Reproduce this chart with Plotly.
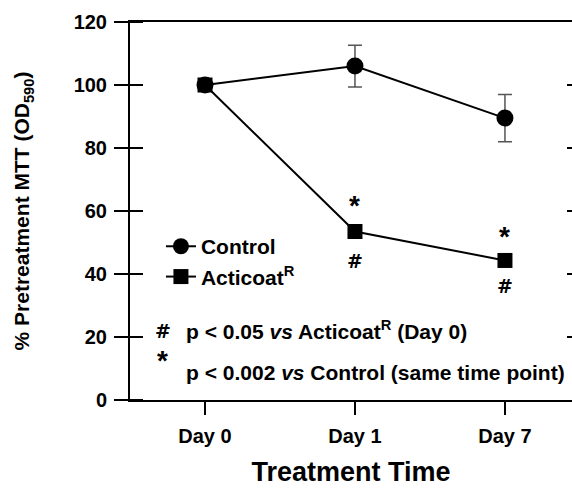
import plotly.graph_objects as go

days = ["Day 0", "Day 1", "Day 7"]
control = [100, 106, 89.5]
control_err = [0, 6.6, 7.5]
acticoat = [100, 53.5, 44.3]
y_ticks = [0, 20, 40, 60, 80, 100, 120]

FONT = "Liberation Sans, Arial, sans-serif"
HASH_FONT = "DejaVu Sans, Liberation Sans, sans-serif"
PLOT_W = 442  # plot area width in px (572 - 130)

fig = go.Figure()
fig.add_trace(go.Scatter(
    x=days, y=control, name="Control", mode="lines+markers",
    line=dict(color="black", width=2),
    marker=dict(symbol="circle", size=17, color="black"),
    error_y=dict(type="data", array=control_err, color="#555", thickness=1.5, width=7),
))
fig.add_trace(go.Scatter(
    x=days, y=acticoat, name="Acticoat<sup>R</sup>", mode="lines+markers",
    line=dict(color="black", width=2),
    marker=dict(symbol="square", size=15, color="black"),
))

# inward half of the crossing y ticks, and right-side stub ticks
for v in y_ticks:
    fig.add_shape(type="line", xref="paper", yref="y", x0=0, x1=13 / PLOT_W, y0=v, y1=v,
                  line=dict(color="black", width=2))
for v in y_ticks[1:-1]:
    fig.add_shape(type="line", xref="paper", yref="y", x0=1 - 5 / PLOT_W, x1=1, y0=v, y1=v,
                  line=dict(color="black", width=2))

# significance markers
for i in [1, 2]:
    fig.add_annotation(x=days[i], y=acticoat[i], text="*", showarrow=False,
                       font=dict(size=28, family=FONT, color="black", weight="bold"),
                       yshift=26 if i == 1 else 24)
    fig.add_annotation(x=days[i], y=acticoat[i], text="#", showarrow=False,
                       font=dict(size=19, family=HASH_FONT, color="black", weight="bold"),
                       yshift=-30 if i == 1 else -26)

fig.add_annotation(xref="paper", yref="paper", x=0.0747, y=0.182, xanchor="center", yanchor="middle",
                   text="#", showarrow=False,
                   font=dict(size=19, family=HASH_FONT, color="black", weight="bold"))
fig.add_annotation(xref="paper", yref="paper", x=0.122, y=0.186, xanchor="left", yanchor="middle",
                   text="p < 0.05 <i>vs</i> Acticoat<sup>R</sup> (Day 0)", showarrow=False,
                   font=dict(size=21, family=FONT, color="black", weight="bold"))
fig.add_annotation(xref="paper", yref="paper", x=0.0724, y=0.104, xanchor="center", yanchor="middle",
                   text="*", showarrow=False,
                   font=dict(size=28, family=FONT, color="black", weight="bold"))
fig.add_annotation(xref="paper", yref="paper", x=0.122, y=0.074, xanchor="left", yanchor="middle",
                   text="p < 0.002 <i>vs</i> Control (same time point)", showarrow=False,
                   font=dict(size=21, family=FONT, color="black", weight="bold"))

fig.update_layout(
    width=572, height=489,
    margin=dict(l=130, r=0, t=22, b=89),
    paper_bgcolor="white", plot_bgcolor="white",
    font=dict(family=FONT, size=20, color="black", weight="bold"),
    showlegend=True,
    legend=dict(x=0.07, y=0.46, xanchor="left", yanchor="top", bgcolor="rgba(0,0,0,0)",
                font=dict(size=21, family=FONT, weight="bold")),
    xaxis=dict(range=[-0.5, 2.447], showgrid=False, zeroline=False,
               showline=True, linecolor="black", linewidth=2, mirror=True,
               ticks="outside", ticklen=13, tickwidth=2, tickcolor="black",
               tickfont=dict(size=20), ticklabelstandoff=4,
               title=dict(text="Treatment Time", font=dict(size=27), standoff=16)),
    yaxis=dict(range=[0, 120], tickvals=y_ticks, showgrid=False, zeroline=False,
               showline=True, linecolor="black", linewidth=2,
               ticks="outside", ticklen=14, tickwidth=2, tickcolor="black",
               tickfont=dict(size=20), ticklabelstandoff=3,
               title=dict(text="% Pretreatment MTT (OD<sub>590</sub>)", font=dict(size=21), standoff=38)),
)

fig.write_html("out.html")
